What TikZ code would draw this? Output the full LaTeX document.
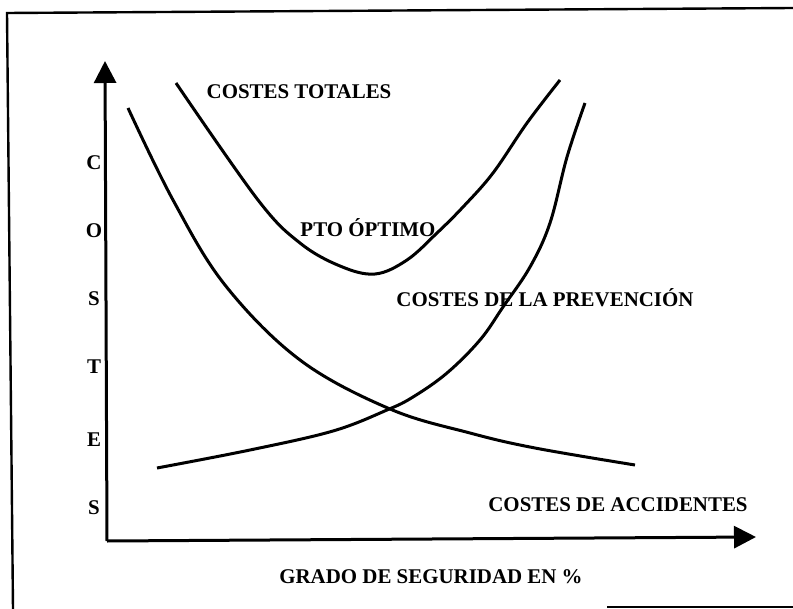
\documentclass[tikz,border=0pt]{standalone}
\usepackage{fontspec}
\setmainfont{Liberation Serif}
\usetikzlibrary{arrows.meta}
\begin{document}
\begin{tikzpicture}[x=1bp,y=-1bp,
  lbl/.style={font=\fontsize{21}{24}\selectfont\bfseries, inner sep=0pt},
  axis/.style={line width=3bp, -{Triangle[length=22bp,width=22bp]}},
  curve/.style={line width=3bp, smooth, tension=0.6},
  frame/.style={line width=2.4bp}]
\useasboundingbox (0,0) rectangle (793,609);
% frame
\draw[frame] (13,609) -- (7,13) -- (793,8);
\draw[frame] (607,607) -- (793,607);
% axes
\coordinate (O) at (107,541);
\coordinate (ytip) at (105,61);
\coordinate (xtip) at (756,537);
\draw[axis] (O) -- (ytip);
\draw[axis] (O) -- (xtip);
% costes de accidentes
\draw[curve] plot coordinates {(128,108) (173,200) (225,285) (300,360) (390,409) (470,433) (535,448) (635,465)};
% costes de la prevencion
\draw[curve] plot coordinates {(157,468) (250,450) (333,431) (387,410) (413,397) (447,373) (480,340) (503,307) (530,267) (550,223) (567,157) (585,103)};
% costes totales
\draw[curve] plot coordinates {(176,83) (258,200) (300,243) (340,266) (375,274) (407,260) (437,233) (463,207) (493,173) (527,123) (560,80)};
% labels
\node[lbl] (tot) at (299,92) {COSTES TOTALES};
\node[lbl] (opt) at (368,228) {PTO ÓPTIMO};
\node[lbl] (prev) at (545,298) {COSTES DE LA PREVENCIÓN};
\node[lbl] (acc) at (618,505) {COSTES DE ACCIDENTES};
\node[lbl] (grado) at (431,577) {GRADO DE SEGURIDAD EN \%};
\node[lbl] (c1) at (94,163) {C};
\node[lbl] (c2) at (94,231) {O};
\node[lbl] (c3) at (94,299) {S};
\node[lbl] (c4) at (94,367) {T};
\node[lbl] (c5) at (94,440) {E};
\node[lbl] (c6) at (94,508) {S};
\end{tikzpicture}
\end{document}
